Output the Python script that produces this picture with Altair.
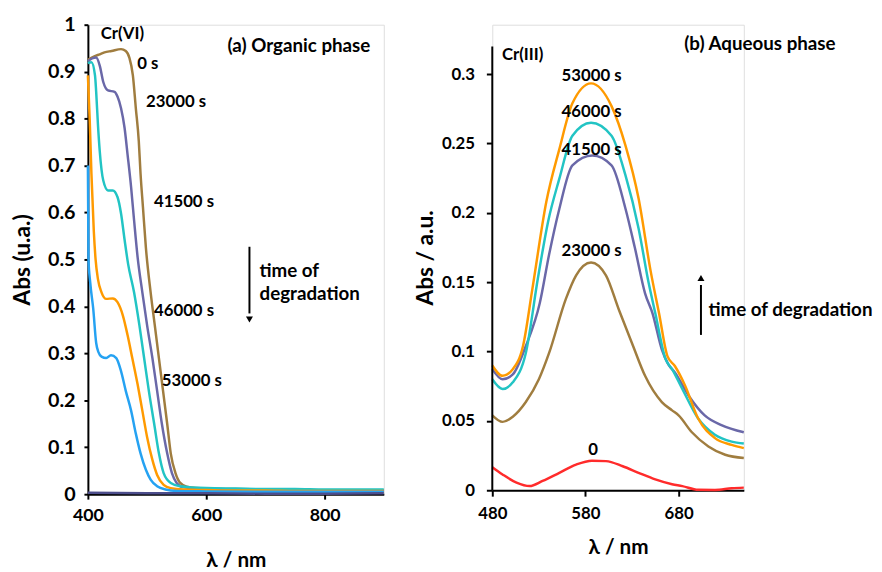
import altair as alt
import pandas as pd

FONT = "Lato"

# ---------------- (a) Organic phase : Cr(VI) ----------------
org_series = ["0 s", "23000 s", "41500 s", "46000 s", "53000 s", "blank"]
org_colors = ["#A07D3F", "#6A68A8", "#22C4C4", "#FF9A00", "#25A2F2", "#4D4E8C"]

org_nm_0 = [400, 410, 420, 428, 440, 456, 464, 470, 476, 481, 486, 489, 493, 498, 506, 513, 520, 527, 534, 540, 548, 556, 567, 600, 650, 700, 750, 800, 850, 900]
org_a_0 = [0.925, 0.932, 0.937, 0.941, 0.944, 0.948, 0.944, 0.93, 0.892, 0.822, 0.752, 0.682, 0.612, 0.525, 0.43, 0.36, 0.29, 0.22, 0.15, 0.087, 0.045, 0.024, 0.016, 0.012, 0.011, 0.01, 0.009, 0.008, 0.008, 0.008]

org_nm_23 = [400, 407, 414, 420, 426, 434, 445, 450, 456, 462, 467, 473, 478, 484, 492, 500, 509, 517, 525, 534, 542, 550, 561, 600, 650, 700, 750, 800, 850, 900]
org_a_23 = [0.922, 0.928, 0.93, 0.913, 0.878, 0.86, 0.857, 0.847, 0.822, 0.78, 0.724, 0.654, 0.584, 0.505, 0.43, 0.36, 0.29, 0.22, 0.15, 0.087, 0.045, 0.024, 0.015, 0.011, 0.010, 0.009, 0.008, 0.007, 0.007, 0.007]

org_nm_415 = [400, 406, 412, 414, 417, 420, 426, 434, 442, 450, 456, 462, 468, 478, 487, 495, 503, 512, 520, 528, 540, 556, 600, 650, 700, 750, 800, 850, 900]
org_a_415 = [0.918, 0.92, 0.892, 0.857, 0.787, 0.731, 0.668, 0.647, 0.647, 0.633, 0.598, 0.542, 0.49, 0.43, 0.36, 0.29, 0.22, 0.15, 0.087, 0.045, 0.024, 0.017, 0.013, 0.012, 0.011, 0.011, 0.01, 0.01, 0.01]

org_nm_46 = [400, 403, 406, 410, 413, 417, 423, 431, 442, 450, 459, 467, 475, 484, 492, 500, 509, 517, 528, 540, 562, 600, 650, 700, 750, 800, 850, 900]
org_a_46 = [0.892, 0.80, 0.682, 0.56, 0.5, 0.458, 0.43, 0.416, 0.417, 0.409, 0.381, 0.339, 0.29, 0.234, 0.178, 0.122, 0.073, 0.041, 0.02, 0.013, 0.01, 0.009, 0.008, 0.008, 0.007, 0.007, 0.007, 0.007]

org_nm_53 = [400, 401, 404, 409, 414, 418, 423, 431, 439, 448, 456, 464, 473, 481, 489, 498, 506, 517, 531, 550, 600, 700, 800, 900]
org_a_53 = [0.70, 0.50, 0.45, 0.395, 0.322, 0.302, 0.293, 0.29, 0.296, 0.29, 0.262, 0.22, 0.178, 0.129, 0.087, 0.052, 0.031, 0.017, 0.01, 0.007, 0.006, 0.005, 0.005, 0.005]

org_nm_blank = [400, 500, 600, 700, 800, 900]
org_a_blank = [0.003, 0.002, 0.002, 0.001, 0.001, 0.002]

org_lbl_text = ["Cr(VI)", "0 s", "23000 s", "41500 s", "46000 s", "53000 s"]
org_lbl_nm = [421.7, 483.3, 498.3, 511.7, 511.7, 525]
org_lbl_a = [0.98, 0.916, 0.836, 0.622, 0.391, 0.242]

org_big_text = ["(a) Organic phase", "time of", "degradation"]
org_big_nm = [636, 690, 690]
org_big_a = [0.955, 0.475, 0.426]

org_arrow_nm = [673]
org_arrow_from = [0.527]
org_arrow_to = [0.385]
org_arrow_head = [0.372]

# ---------------- (b) Aqueous phase : Cr(III) ----------------
aq_series = ["0", "23000 s", "41500 s", "46000 s", "53000 s"]
aq_colors = ["#FF2B2B", "#A07D3F", "#6A68A8", "#22C4C4", "#FF9A00"]

aq_nm_0 = [480, 491, 506, 520, 534, 552, 570, 587, 602, 620, 637, 655, 673, 684, 701, 719, 737, 750]
aq_a_0 = [0.0166, 0.0114, 0.0055, 0.003, 0.0067, 0.0126, 0.0185, 0.0213, 0.021, 0.0173, 0.0126, 0.0078, 0.0043, 0.003, 0.0003, 0.0002, 0.0014, 0.0019]

aq_nm_23 = [480, 491, 502, 516, 530, 541, 559, 570, 586, 602, 616, 630, 644, 662, 673, 680, 694, 712, 730, 750]
aq_a_23 = [0.054, 0.0493, 0.053, 0.0636, 0.080, 0.099, 0.138, 0.155, 0.1643, 0.155, 0.13, 0.106, 0.0825, 0.0636, 0.0576, 0.054, 0.042, 0.0316, 0.0256, 0.0233]

aq_nm_415 = [480, 491, 502, 516, 531, 541, 552, 566, 587.5, 608, 623, 633, 644, 652, 662, 669, 676, 691, 708, 726, 750]
aq_a_415 = [0.0873, 0.080, 0.0835, 0.104, 0.135, 0.170, 0.203, 0.2343, 0.2414, 0.2343, 0.203, 0.175, 0.142, 0.1276, 0.1015, 0.0908, 0.085, 0.068, 0.054, 0.047, 0.0418]

aq_nm_46 = [480, 491, 502, 516, 529, 540, 552, 566, 586, 608, 623, 637, 648, 655, 666, 673, 684, 701, 719, 737, 750]
aq_a_46 = [0.080, 0.073, 0.0778, 0.099, 0.153, 0.194, 0.2247, 0.2556, 0.265, 0.2556, 0.227, 0.189, 0.149, 0.1276, 0.0945, 0.0873, 0.073, 0.0517, 0.040, 0.0351, 0.0337]

aq_nm_53 = [480, 491, 502, 513, 523, 538, 552, 566, 586, 608, 623, 637, 650, 659, 668, 676, 687, 701, 719, 737, 750]
aq_a_53 = [0.090, 0.0825, 0.0873, 0.104, 0.145, 0.208, 0.246, 0.279, 0.2934, 0.277, 0.2485, 0.2105, 0.158, 0.1276, 0.0967, 0.0896, 0.0754, 0.0517, 0.0376, 0.0327, 0.0304]

aq_lbl_text = ["Cr(III)", "53000 s", "46000 s", "41500 s", "23000 s", "0"]
aq_lbl_nm = [490.3, 554.4, 554.4, 554.4, 554.4, 583.0]
aq_lbl_a = [0.3135, 0.2985, 0.273, 0.2456, 0.1726, 0.029]

aq_big_text = ["(b) Aqueous phase", "time of degradation"]
aq_big_nm = [686, 712]
aq_big_a = [0.322, 0.13]

aq_arrow_nm = [704]
aq_arrow_from = [0.112]
aq_arrow_to = [0.148]
aq_arrow_head = [0.153]

# drawn y-axis line of panel (b): from 0 to 0.32
aq_axis_nm = [480]
aq_axis_from = [0.0]
aq_axis_to = [0.32]


def lines_df(names, xs_list, ys_list):
    frames = []
    for i, (n, xs, ys) in enumerate(zip(names, xs_list, ys_list)):
        frames.append(pd.DataFrame({"nm": xs, "A": ys, "series": n, "k": i}))
    return pd.concat(frames, ignore_index=True)


org_df = lines_df(org_series,
                  [org_nm_0, org_nm_23, org_nm_415, org_nm_46, org_nm_53, org_nm_blank],
                  [org_a_0, org_a_23, org_a_415, org_a_46, org_a_53, org_a_blank])
aq_df = lines_df(aq_series,
                 [aq_nm_0, aq_nm_23, aq_nm_415, aq_nm_46, aq_nm_53],
                 [aq_a_0, aq_a_23, aq_a_415, aq_a_46, aq_a_53])

org_lbl = pd.DataFrame({"nm": org_lbl_nm, "A": org_lbl_a, "t": org_lbl_text})
org_big = pd.DataFrame({"nm": org_big_nm, "A": org_big_a, "t": org_big_text})
aq_lbl = pd.DataFrame({"nm": aq_lbl_nm, "A": aq_lbl_a, "t": aq_lbl_text})
aq_big = pd.DataFrame({"nm": aq_big_nm, "A": aq_big_a, "t": aq_big_text})
org_arr = pd.DataFrame({"nm": org_arrow_nm, "A": org_arrow_from, "A2": org_arrow_to, "H": org_arrow_head})
aq_arr = pd.DataFrame({"nm": aq_arrow_nm, "A": aq_arrow_from, "A2": aq_arrow_to, "H": aq_arrow_head})
aq_ax = pd.DataFrame({"nm": aq_axis_nm, "A": aq_axis_from, "A2": aq_axis_to})

axis_common = dict(grid=False, domainColor="black", domainWidth=2, tickColor="black",
                   tickWidth=2, labelColor="black", labelFont=FONT, labelFontWeight="bold",
                   titleColor="black", titleFont=FONT, titleFontWeight="bold", labelFlush=False)


def text_layer(df, size):
    return alt.Chart(df).mark_text(align="left", baseline="middle", font=FONT,
                                   fontWeight="bold", fontSize=size, color="black").encode(
        x="nm:Q", y="A:Q", text="t:N")


# ---------- left panel ----------
lx = alt.X("nm:Q", scale=alt.Scale(domain=[400, 900], nice=False, zero=False),
           axis=alt.Axis(values=[400, 600, 800], title="λ / nm", labelFontSize=18, titleFontSize=21,
                         tickSize=5, labelPadding=8, titleY=67, titleBaseline="middle", **axis_common))
ly = alt.Y("A:Q", scale=alt.Scale(domain=[0, 1], nice=False),
           axis=alt.Axis(values=[0, 0.1, 0.2, 0.3, 0.4, 0.5, 0.6, 0.7, 0.8, 0.9, 1.0], format="~g",
                         title="Abs (u.a.)", labelFontSize=20, titleFontSize=23, tickSize=4, labelPadding=9,
                         titleX=-66, titleBaseline="middle", **axis_common))

org_lines = alt.Chart(org_df).mark_line(strokeWidth=2.5, interpolate="monotone").encode(
    x=lx, y=ly,
    color=alt.Color("series:N", scale=alt.Scale(domain=org_series, range=org_colors), legend=None),
    order="k:Q")
org_rule = alt.Chart(org_arr).mark_rule(strokeWidth=2, color="black").encode(x="nm:Q", y="A:Q", y2="A2:Q")
org_head = alt.Chart(org_arr).mark_point(shape="triangle-down", filled=True, size=50, color="black", opacity=1).encode(
    x="nm:Q", y="H:Q")

left = alt.layer(org_lines, org_rule, org_head, text_layer(org_lbl, 17), text_layer(org_big, 19)).properties(
    width=300, height=476)

# ---------- right panel ----------
rx = alt.X("nm:Q", scale=alt.Scale(domain=[480, 750], nice=False, zero=False),
           axis=alt.Axis(values=[480, 580, 680], title="λ / nm", labelFontSize=17, titleFontSize=21,
                         tickSize=6, labelPadding=10, titleY=58, titleBaseline="middle", **axis_common))
ry = alt.Y("A:Q", scale=alt.Scale(domain=[0, 0.3357], nice=False),
           axis=alt.Axis(values=[0, 0.05, 0.1, 0.15, 0.2, 0.25, 0.3], format="~g", domain=False,
                         title="Abs / a.u.", labelFontSize=17, titleFontSize=23, tickSize=6, labelPadding=12,
                         titleX=-68, titleBaseline="middle", **axis_common))

aq_lines = alt.Chart(aq_df).mark_line(strokeWidth=2.5, interpolate="monotone").encode(
    x=rx, y=ry,
    color=alt.Color("series:N", scale=alt.Scale(domain=aq_series, range=aq_colors), legend=None),
    order="k:Q")
aq_axis_line = alt.Chart(aq_ax).mark_rule(strokeWidth=2, color="black").encode(x="nm:Q", y="A:Q", y2="A2:Q")
aq_rule = alt.Chart(aq_arr).mark_rule(strokeWidth=2, color="black").encode(x="nm:Q", y="A:Q", y2="A2:Q")
aq_head = alt.Chart(aq_arr).mark_point(shape="triangle-up", filled=True, size=50, color="black", opacity=1).encode(
    x="nm:Q", y="H:Q")

right = alt.layer(aq_lines, aq_axis_line, aq_rule, aq_head, text_layer(aq_lbl, 17), text_layer(aq_big, 19)).properties(
    width=255, height=472)

chart = alt.hconcat(left, right, spacing=24).properties(
    padding={"left": 3, "top": 2, "right": 0, "bottom": 0}
).resolve_scale(color="independent").configure_view(strokeWidth=0).configure(background="white")

chart.save("out.html", embed_options={"renderer": "svg", "actions": False})
